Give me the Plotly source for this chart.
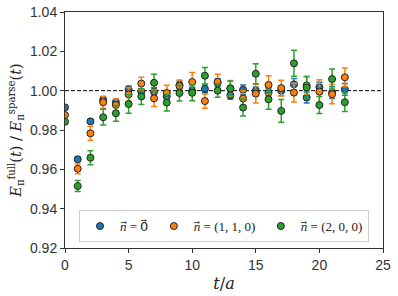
import plotly.graph_objects as go

t_vals = list(range(23))

blue_vals = [0.9915, 0.9651, 0.9844, 0.9953, 0.9941, 1.0007, 0.9995, 0.9995, 0.9970, 1.0029,
             0.9998, 1.0009, 1.0040, 0.9976, 1.0005, 0.9999, 0.9989, 1.0000, 1.0032, 0.9965,
             1.0018, 0.9990, 1.0007]
blue_err = [0.001, 0.001, 0.001, 0.0015, 0.0015, 0.0015, 0.0015, 0.002, 0.002, 0.002,
            0.002, 0.002, 0.002, 0.002, 0.0024, 0.002, 0.0025, 0.0025, 0.003, 0.0028,
            0.0025, 0.003, 0.003]

orange_vals = [0.9876, 0.9603, 0.9783, 0.9941, 0.9927, 0.9981, 1.0036, 0.9961, 0.9988, 1.0024,
               1.0044, 0.9947, 1.0045, 1.0012, 0.9960, 0.9985, 1.0029, 1.0013, 0.9990, 1.0027,
               0.9995, 0.9982, 1.0068]
orange_err = [0.001, 0.0025, 0.0036, 0.003, 0.003, 0.0035, 0.0032, 0.0042, 0.004, 0.003,
              0.0049, 0.0036, 0.0039, 0.004, 0.004, 0.0048, 0.0047, 0.004, 0.0048, 0.0045,
              0.006, 0.0049, 0.0047]

green_vals = [0.9842, 0.9515, 0.9659, 0.9865, 0.9885, 0.9932, 0.9970, 1.0040, 0.9939, 0.9988,
              0.9989, 1.0076, 1.0000, 1.0011, 0.9914, 1.0086, 0.9956, 0.9897, 1.0139, 1.0016,
              0.9927, 1.0059, 0.9941]
green_err = [0.001, 0.0028, 0.0036, 0.004, 0.004, 0.0047, 0.004, 0.0044, 0.0042, 0.004,
             0.004, 0.0042, 0.0034, 0.0038, 0.0043, 0.0051, 0.005, 0.0058, 0.0066, 0.0056,
             0.0043, 0.0051, 0.0047]

series_names = ["<i>n</i>\u20d7 = 0\u20d7", "<i>n</i>\u20d7 = (1, 1, 0)", "<i>n</i>\u20d7 = (2, 0, 0)"]
series_colors = ["#1f77b4", "#ff7f0e", "#2ca02c"]

x_ticks = [0, 5, 10, 15, 20, 25]
y_ticks = [0.92, 0.94, 0.96, 0.98, 1.00, 1.02, 1.04]

fig = go.Figure()
for vals, errs, name, col in zip([blue_vals, orange_vals, green_vals],
                                 [blue_err, orange_err, green_err],
                                 series_names, series_colors):
    fig.add_trace(go.Scatter(
        x=t_vals, y=vals, mode="markers", name=name,
        marker=dict(color=col, size=7, line=dict(color="#222222", width=1)),
        error_y=dict(type="data", array=errs, color=col, thickness=1.5, width=3),
    ))

fig.add_shape(type="line", xref="paper", yref="y", x0=0, x1=1, y0=1.0, y1=1.0,
              line=dict(color="black", width=1, dash="4px,2px"), layer="below")

axis_common = dict(showline=True, linecolor="#333333", linewidth=1, mirror=True,
                   ticks="outside", ticklen=4, tickcolor="#333333", showgrid=False,
                   zeroline=False, automargin=False,
                   tickfont=dict(family="Liberation Sans, Arial", size=14, color="#333333"))

fig.update_layout(
    width=398, height=296,
    margin=dict(l=65, r=15, t=12, b=48),
    plot_bgcolor="white", paper_bgcolor="white",
    showlegend=True,
    legend=dict(orientation="h", x=0.5, xanchor="center", y=0.025, yanchor="bottom",
                bgcolor="white", bordercolor="#cccccc", borderwidth=1,
                font=dict(family="Liberation Serif, serif", size=13, color="#222222"),
                itemwidth=30, tracegroupgap=0),
    xaxis=dict(range=[0, 25], tickvals=x_ticks, ticktext=[str(v) for v in x_ticks],
               title=dict(text="<i>t</i>/<i>a</i>", font=dict(family="DejaVu Serif, serif", size=16, color="#222222"), standoff=6),
               **axis_common),
    yaxis=dict(range=[0.92, 1.04], tickvals=y_ticks, ticktext=[f"{v:.2f}" for v in y_ticks],
               title=dict(text="<i>E</i><sub>π</sub><sup>full</sup>(<i>t</i>) / <i>E</i><sub>π</sub><sup>sparse</sup>(<i>t</i>)",
                          font=dict(family="DejaVu Serif, serif", size=14.5, color="#222222"), standoff=4),
               **axis_common),
)

fig.write_html("out.html", config={"displayModeBar": False},
               post_script="document.body.style.margin='0';")
